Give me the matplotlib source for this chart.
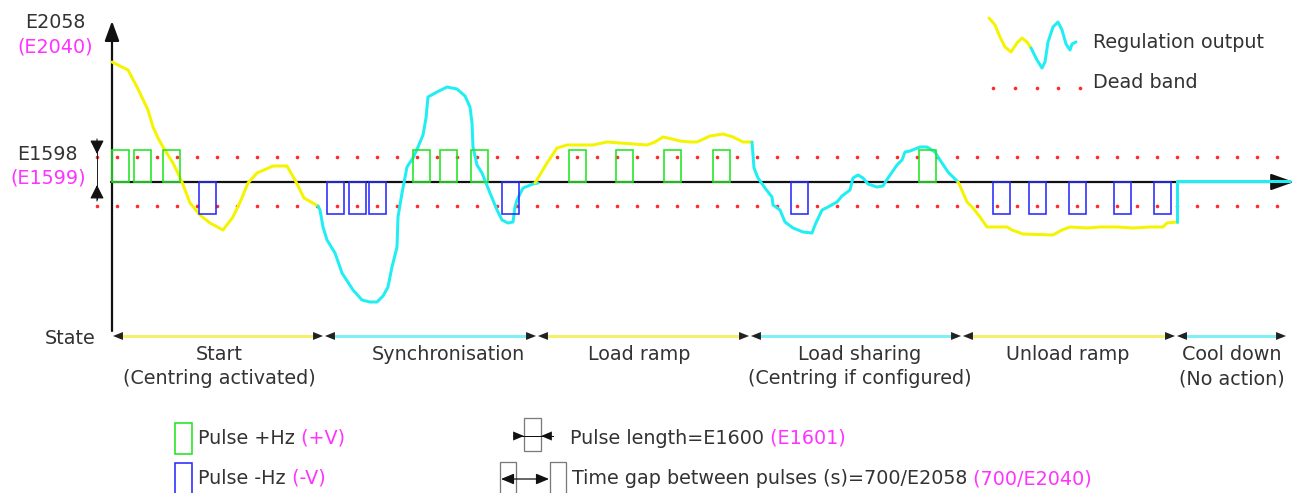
import matplotlib
matplotlib.use('Agg')
import matplotlib.pyplot as plt
from matplotlib.patches import Rectangle

# ---------------- data (pixel units of the 1298x493 drawing) ----------------
AXIS_Y = 182
DEAD_BAND_UP = 157
DEAD_BAND_LOW = 206
DEAD_BAND_X = [97, 1277]
DOT_STEP = 20

PULSE_UP_X = [112, 134, 163, 413, 440, 471, 569, 616, 664, 713, 919]
PULSE_DOWN_X = [199, 327, 349, 369, 502, 791, 993, 1029, 1069, 1114, 1154]
PULSE_W = 16.5
PULSE_H = 32

# regulation output, one list per state (colour alternates yellow / cyan)
seg1_x = [112, 128, 137, 148, 153, 158, 163, 173, 182, 190, 200, 210, 223, 233, 241, 248, 257, 273, 287, 295, 304, 318]
seg1_y = [62, 70, 87, 110, 127, 138, 147, 163, 182, 203, 215, 223, 230, 217, 200, 183, 173, 166, 166, 180, 198, 206]

seg2_x = [318, 320, 323, 327, 335, 342, 353, 362, 370, 377, 383, 388, 392, 397, 398, 402, 407, 413, 418, 423, 426,
          428, 437, 447, 457, 465, 470, 472, 473, 477, 482, 490, 497, 502, 508, 513, 515, 517, 523, 533, 538]
seg2_y = [206, 210, 227, 240, 253, 273, 290, 300, 302, 302, 296, 287, 267, 247, 217, 193, 167, 158, 147, 135, 118,
          97, 92, 87, 89, 96, 107, 123, 147, 165, 173, 193, 210, 220, 223, 222, 207, 200, 188, 184, 183]

seg3_x = [535, 547, 557, 567, 593, 607, 620, 647, 655, 663, 672, 680, 690, 697, 710, 723, 733, 743, 752]
seg3_y = [183, 163, 148, 145, 145, 142, 143, 145, 142, 137, 139, 141, 142, 142, 136, 134, 137, 142, 142]

seg4_x = [752, 754, 758, 765, 772, 773, 780, 785, 793, 803, 812, 815, 822, 828, 837, 842, 850, 853, 858, 863, 868,
          877, 883, 888, 897, 902, 905, 910, 920, 927, 935, 940, 948, 958]
seg4_y = [142, 168, 178, 188, 197, 205, 210, 222, 228, 232, 233, 225, 210, 207, 202, 196, 190, 178, 175, 178, 184,
          187, 186, 178, 165, 160, 152, 151, 147, 147, 152, 160, 172, 182]

seg5_x = [958, 960, 967, 973, 980, 987, 997, 1007, 1012, 1023, 1053, 1062, 1070, 1087, 1100, 1117, 1133, 1150, 1163, 1167, 1177]
seg5_y = [182, 186, 202, 208, 217, 227, 227, 227, 230, 234, 235, 230, 227, 228, 227, 227, 228, 227, 227, 223, 222]

seg6_x = [1177, 1177, 1290]
seg6_y = [222, 180.5, 180.5]

# legend sample curve
leg_yel_x = [989, 995, 1000, 1005, 1011, 1017, 1022, 1027, 1031]
leg_yel_y = [18, 25, 37, 47, 52, 43, 38, 42, 48]
leg_cyan_x = [1031, 1037, 1042, 1045, 1048, 1053, 1058, 1062, 1066, 1070, 1072, 1076]
leg_cyan_y = [48, 60, 68, 62, 42, 27, 22, 30, 44, 50, 44, 42]
leg_dots_x = [993, 1015, 1037, 1058, 1080]

# states
STATE_BOUNDS = [112, 324, 537, 750, 962, 1176, 1287]
STATE_LABELS = ["Start\n(Centring activated)", "Synchronisation", "Load ramp",
                "Load sharing\n(Centring if configured)", "Unload ramp", "Cool down\n(No action)"]
STATE_LABEL_X = [219, 448, 639, 860, 1068, 1232]

# ---------------- style ----------------
YEL = '#f4f400'
CYA = '#20eef2'
YEL_STATE = '#f6ef6a'
CYA_STATE = '#7ff0f6'
GRN = '#22e622'
BLU = '#2a2aff'
RED = '#ff2a2a'
TXT = '#333333'
MAG = '#ff33ff'
FS = 13.8

plt.rcParams['font.family'] = ['DejaVu Sans']

W, H, DPI = 1298, 493, 100
fig = plt.figure(figsize=(W / DPI, H / DPI), dpi=DPI)
ax = fig.add_axes([0, 0, 1, 1])
ax.set_xlim(0, W)
ax.set_ylim(H, 0)
ax.axis('off')

PX = 0.72  # points per pixel

# dead band dots
dots_x = list(range(DEAD_BAND_X[0], DEAD_BAND_X[1] + 1, DOT_STEP))
for yy in (DEAD_BAND_UP, DEAD_BAND_LOW):
    ax.plot(dots_x, [yy] * len(dots_x), ls='none', marker='o', ms=2.6, mec='none', mfc=RED, zorder=2)

# axes arrows
ax.annotate('', xy=(112, 21), xytext=(112, 331),
            arrowprops=dict(arrowstyle='-|>,head_length=0.6,head_width=0.22', mutation_scale=20,
                            color='#111111', lw=1.6, shrinkA=0, shrinkB=0), zorder=3)
ax.annotate('', xy=(1294, AXIS_Y), xytext=(111, AXIS_Y),
            arrowprops=dict(arrowstyle='-|>,head_length=0.7,head_width=0.25', mutation_scale=20,
                            color='#111111', lw=1.6, shrinkA=0, shrinkB=0), zorder=3)

# regulation output curve
segs = [(seg1_x, seg1_y, YEL), (seg2_x, seg2_y, CYA), (seg3_x, seg3_y, YEL),
        (seg4_x, seg4_y, CYA), (seg5_x, seg5_y, YEL), (seg6_x, seg6_y, CYA)]
for xs, ys, c in segs:
    ax.plot(xs, ys, color=c, lw=3 * PX, solid_joinstyle='round', solid_capstyle='round', zorder=4)

# pulses
for x in PULSE_UP_X:
    ax.add_patch(Rectangle((x, AXIS_Y - PULSE_H), PULSE_W, PULSE_H, fill=False, ec=GRN, lw=1.6 * PX, zorder=5))
for x in PULSE_DOWN_X:
    ax.add_patch(Rectangle((x, AXIS_Y), PULSE_W, PULSE_H, fill=False, ec=BLU, lw=1.6 * PX, zorder=5))

# y labels
ax.text(55, 22, 'E2058', ha='center', va='center', color=TXT, fontsize=FS)
ax.text(55, 47, '(E2040)', ha='center', va='center', color=MAG, fontsize=FS)
ax.text(47, 155, 'E1598', ha='center', va='center', color=TXT, fontsize=FS)
ax.text(48, 178, '(E1599)', ha='center', va='center', color=MAG, fontsize=FS)

# dead band dimension marker
ax.plot([97, 97], [141, 199], color='#222222', lw=1.0 * PX, zorder=3)
ax.annotate('', xy=(97, 154), xytext=(97, 139),
            arrowprops=dict(arrowstyle='-|>,head_length=0.6,head_width=0.3', mutation_scale=14,
                            color='#111111', lw=0.8, shrinkA=0, shrinkB=0))
ax.annotate('', xy=(97, 185), xytext=(97, 201),
            arrowprops=dict(arrowstyle='-|>,head_length=0.6,head_width=0.3', mutation_scale=14,
                            color='#111111', lw=0.8, shrinkA=0, shrinkB=0))

# legend (top right)
ax.plot(leg_yel_x, leg_yel_y, color=YEL, lw=3 * PX, solid_joinstyle='round', solid_capstyle='round')
ax.plot(leg_cyan_x, leg_cyan_y, color=CYA, lw=3 * PX, solid_joinstyle='round', solid_capstyle='round')
ax.plot(leg_dots_x, [88] * len(leg_dots_x), ls='none', marker='o', ms=2.6, mec='none', mfc=RED)
ax.text(1093, 42, 'Regulation output', ha='left', va='center', color=TXT, fontsize=FS)
ax.text(1093, 83, 'Dead band', ha='left', va='center', color=TXT, fontsize=FS)

# state row
STATE_Y = 336
ax.text(70, 338, 'State', ha='center', va='center', color=TXT, fontsize=FS)
for i in range(len(STATE_LABELS)):
    x0, x1 = STATE_BOUNDS[i] + 1, STATE_BOUNDS[i + 1] - 1
    c = YEL_STATE if i % 2 == 0 else CYA_STATE
    ax.plot([x0 + 4, x1 - 4], [STATE_Y, STATE_Y], color=c, lw=3 * PX, solid_capstyle='butt', zorder=2)
    for tip, tail in ((x0, x0 + 10), (x1, x1 - 10)):
        ax.annotate('', xy=(tip, STATE_Y), xytext=(tail, STATE_Y),
                    arrowprops=dict(arrowstyle='-|>,head_length=0.55,head_width=0.22', mutation_scale=13,
                                    color='#222222', lw=0.01, shrinkA=0, shrinkB=0), zorder=3)
    lines = STATE_LABELS[i].split('\n')
    for j, s in enumerate(lines):
        ax.text(STATE_LABEL_X[i], 354 + 25 * j, s, ha='center', va='center', color=TXT, fontsize=FS)

# bottom legend
def two_tone(x, y, s1, s2):
    t = ax.text(x, y, s1, ha='left', va='center', color=TXT, fontsize=FS)
    ax.annotate(s2, xy=(1, 0), xycoords=t, ha='left', va='bottom', color=MAG, fontsize=FS)

ax.add_patch(Rectangle((175, 423), 17, 31, fill=False, ec=GRN, lw=1.6 * PX))
ax.add_patch(Rectangle((175, 463), 17, 31, fill=False, ec=BLU, lw=1.6 * PX))
two_tone(198, 438, 'Pulse +Hz', ' (+V)')
two_tone(198, 478, 'Pulse -Hz', ' (-V)')

GRAY = '#7a7a7a'
ax.add_patch(Rectangle((524, 418), 17, 33, fill=False, ec=GRAY, lw=1.3 * PX))
ax.plot([513, 553], [436, 436], color='#111111', lw=1.0 * PX)
for tip, tail in ((524, 512), (541, 553)):
    ax.annotate('', xy=(tip, 436), xytext=(tail, 436),
                arrowprops=dict(arrowstyle='-|>,head_length=0.6,head_width=0.25', mutation_scale=13,
                                color='#111111', lw=0.01, shrinkA=0, shrinkB=0))
two_tone(570, 438, 'Pulse length=E1600', ' (E1601)')

ax.add_patch(Rectangle((500, 462), 16, 33, fill=False, ec=GRAY, lw=1.3 * PX))
ax.add_patch(Rectangle((550, 462), 16, 33, fill=False, ec=GRAY, lw=1.3 * PX))
ax.annotate('', xy=(549, 479), xytext=(501, 479),
            arrowprops=dict(arrowstyle='<|-|>,head_length=0.6,head_width=0.25', mutation_scale=13,
                            color='#111111', lw=0.9, shrinkA=0, shrinkB=0))
two_tone(572, 479, 'Time gap between pulses (s)=700/E2058', ' (700/E2040)')

fig.savefig('out.png', dpi=DPI)
